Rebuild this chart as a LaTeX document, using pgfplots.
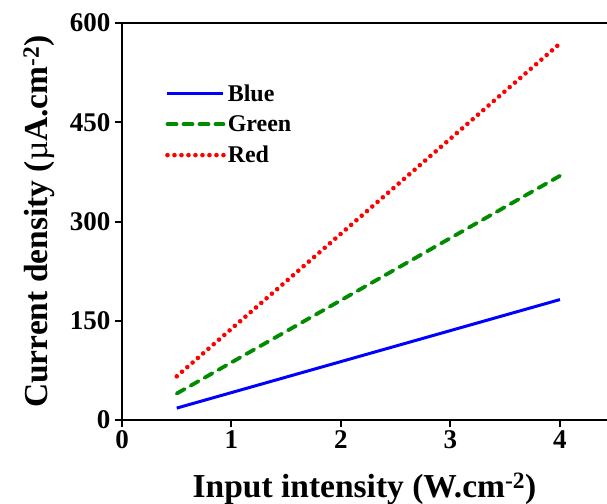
\documentclass[border=0pt]{standalone}
\usepackage{fontspec}
\setmainfont{Liberation Serif}
\usepackage{pgfplots}
\pgfplotsset{compat=1.18}
\definecolor{myblue}{RGB}{0,0,255}
\definecolor{mygreen}{RGB}{0,140,0}
\definecolor{myred}{RGB}{255,0,0}
\begin{document}
\begin{tikzpicture}
\useasboundingbox (0,0) rectangle (607bp,504bp);
\begin{axis}[
  at={(122bp,84bp)}, anchor=south west,
  scale only axis,
  width=485bp, height=397bp,
  xmin=0, xmax=4.43, ymin=0, ymax=600,
  axis x line=box, axis y line=left,
  axis line style={-, line width=2.2bp, black},
  xtick={0,1,2,3,4}, ytick={0,150,300,450,600},
  xtick pos=bottom, ytick pos=left,
  tick align=outside, major tick length=7bp,
  tick style={line width=2bp, black},
  /pgf/number format/assume math mode=true,
  ticklabel style={font=\fontsize{27bp}{30bp}\selectfont\bfseries},
  yticklabel style={xshift=-1bp},
  xlabel={Input intensity (W.cm\textsuperscript{-2})},
  ylabel={Current density (\textmd{µ}A.cm\textsuperscript{-2})},
  label style={font=\fontsize{33.5bp}{40bp}\selectfont\bfseries},
  xlabel style={yshift=-17bp},
  ylabel style={yshift=8bp},
  legend style={draw=none, fill=none, at={(0.089,0.85)}, anchor=north west,
    font=\fontsize{24bp}{28bp}\selectfont\bfseries,
    row sep=9bp, inner sep=0pt, outer sep=0pt},
  legend cell align=left,
  legend image code/.code={\draw[#1] (0bp,0bp) -- (56bp,0bp);},
]
\addplot[myblue, line width=3bp] coordinates {(0.5,18) (4,182)};
\addlegendentry{Blue}
\addplot[mygreen, line width=3.8bp, dash pattern=on 9bp off 7bp, line cap=round] coordinates {(0.5,40) (4,369)};
\addlegendentry{Green}
\addplot[myred, line width=4.6bp, dash pattern=on 0bp off 7bp, line cap=round] coordinates {(0.5,66) (4,569)};
\addlegendentry{Red}
\end{axis}
\end{tikzpicture}
\end{document}
